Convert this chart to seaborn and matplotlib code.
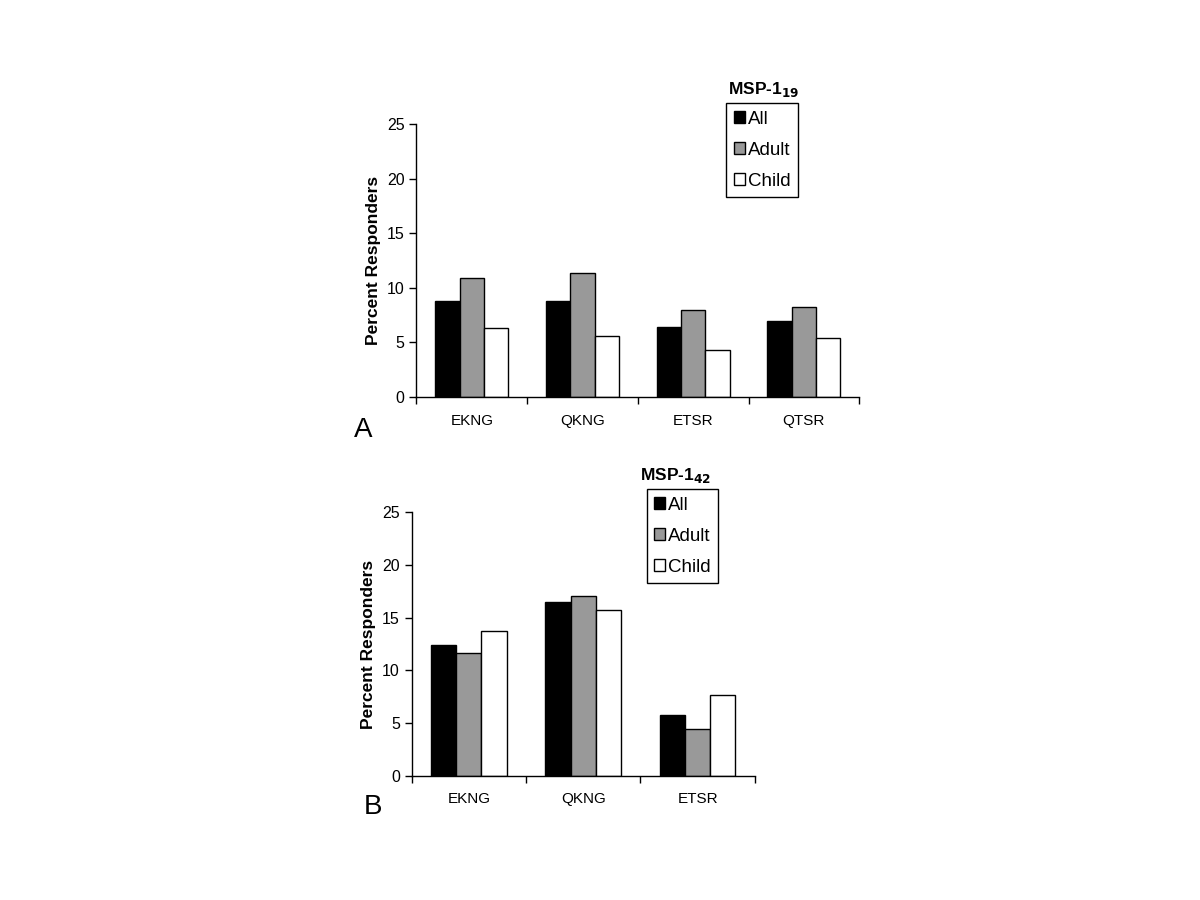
import numpy as np
import pandas as pd
import matplotlib
matplotlib.use('Agg')
import matplotlib.pyplot as plt
import seaborn as sns

sns.set_style('white')
plt.rcParams['font.family'] = ['Liberation Sans', 'DejaVu Sans']
plt.rcParams['text.color'] = 'black'
plt.rcParams['axes.labelcolor'] = 'black'
plt.rcParams['xtick.color'] = 'black'
plt.rcParams['ytick.color'] = 'black'

# Panel A: MSP-1 19
peptides_a = ['EKNG', 'QKNG', 'ETSR', 'QTSR']
all_a = [8.8, 8.8, 6.4, 7.0]
adult_a = [10.9, 11.4, 8.0, 8.2]
child_a = [6.3, 5.6, 4.3, 5.4]

# Panel B: MSP-1 42
peptides_b = ['EKNG', 'QKNG', 'ETSR']
all_b = [12.4, 16.5, 5.8]
adult_b = [11.6, 17.0, 4.4]
child_b = [13.7, 15.7, 7.7]

groups = ['All', 'Adult', 'Child']
colors = ['black', '#999999', 'white']


def make_df(peps, a, ad, ch):
    rows = []
    for g, vals in zip(groups, [a, ad, ch]):
        for p, v in zip(peps, vals):
            rows.append({'peptide': p, 'group': g, 'pct': v})
    return pd.DataFrame(rows)


def draw(ax, df, peps, title, leg_anchor, letter):
    sns.barplot(data=df, x='peptide', y='pct', hue='group', hue_order=groups,
                palette=colors, edgecolor='black', linewidth=1, width=0.66,
                gap=0, ax=ax, legend=True)
    n = len(peps)
    ax.set_xlim(-0.5, n - 0.5)
    ax.set_ylim(0, 25)
    ax.set_yticks([0, 5, 10, 15, 20, 25])
    ax.set_xticks(np.arange(-0.5, n, 1.0), minor=True)
    ax.tick_params(axis='x', which='major', length=0, labelsize=11, pad=12)
    ax.tick_params(axis='x', which='minor', length=5, width=1, direction='out', bottom=True)
    ax.tick_params(axis='y', length=5, width=1, direction='out', left=True, labelsize=11.5)
    ax.set_xlabel('')
    ax.set_ylabel('Percent Responders', fontsize=12.5, fontweight='bold')
    sns.despine(ax=ax)
    for s in ['left', 'bottom']:
        ax.spines[s].set_color('black')
        ax.spines[s].set_linewidth(1)
    h, l = ax.get_legend_handles_labels()
    ax.legend(h, l, loc='upper left', bbox_to_anchor=leg_anchor, frameon=True,
              fancybox=False, edgecolor='black', framealpha=1, fontsize=13.5,
              handlelength=0.6, handleheight=0.6, handletextpad=0.15,
              borderpad=0.4, labelspacing=0.75, borderaxespad=0)
    ax.get_legend().get_frame().set_linewidth(1)
    ax.text(leg_anchor[0] + 0.085, leg_anchor[1] + 0.015, title, transform=ax.transAxes,
            ha='center', va='bottom', fontsize=12.5, fontweight='bold')
    ax.text(-0.14, -0.12, letter, transform=ax.transAxes, fontsize=20, ha='left', va='center')


fig = plt.figure(figsize=(12, 9), dpi=100)
ax1 = fig.add_axes([0.347, 0.559, 0.369, 0.303])
ax2 = fig.add_axes([0.343, 0.138, 0.286, 0.293])

draw(ax1, make_df(peptides_a, all_a, adult_a, child_a), peptides_a,
     r'MSP-1$_{\mathbf{19}}$', (0.70, 1.077), 'A')
draw(ax2, make_df(peptides_b, all_b, adult_b, child_b), peptides_b,
     r'MSP-1$_{\mathbf{42}}$', (0.685, 1.087), 'B')

fig.savefig('out.png', dpi=100, facecolor='white')
